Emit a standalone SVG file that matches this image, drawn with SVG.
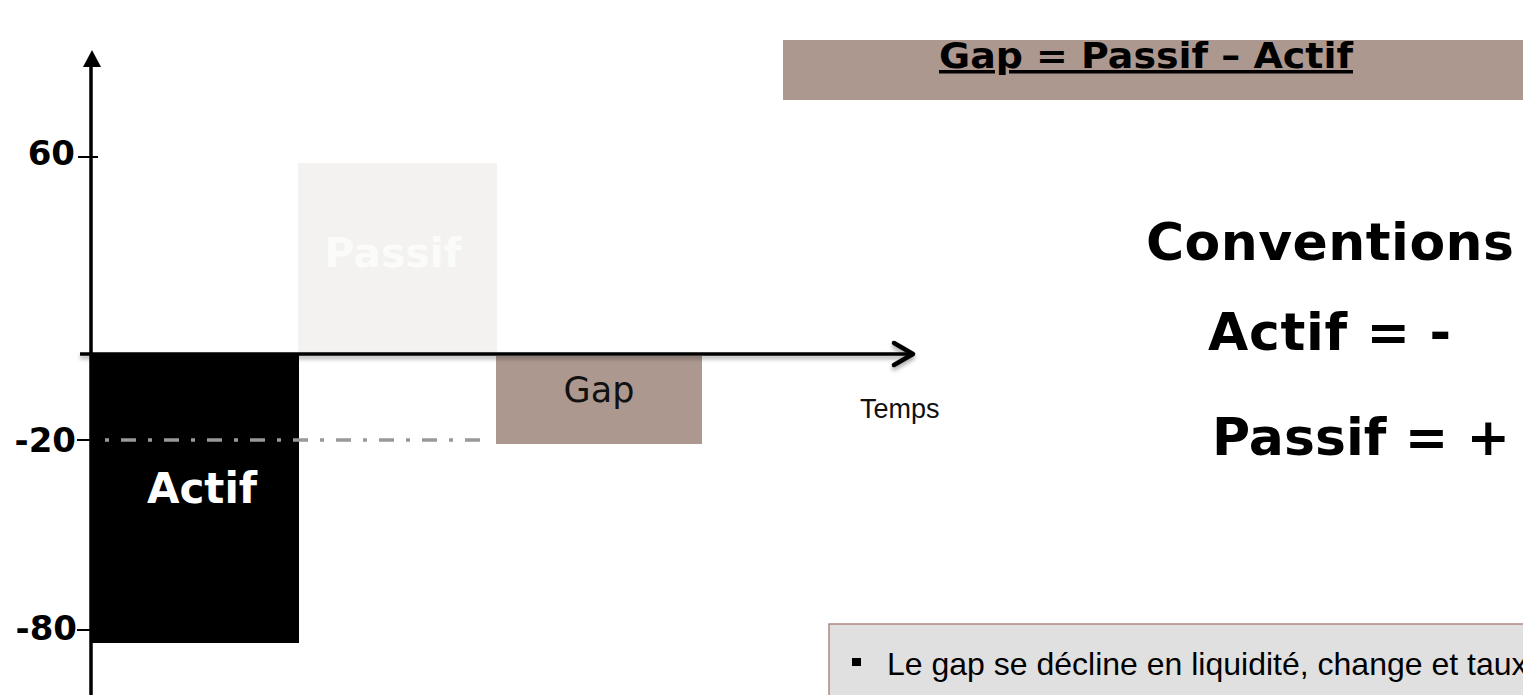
<svg xmlns="http://www.w3.org/2000/svg" width="1523" height="695" viewBox="0 0 1523 695">
<defs>
<style>
.bold{font-family:"DejaVu Sans","Liberation Sans",sans-serif;font-weight:bold}
.reg{font-family:"DejaVu Sans","Liberation Sans",sans-serif}
.arial{font-family:"Liberation Sans",Arial,sans-serif}
.axis{stroke:#000;stroke-width:3.5;fill:none}
.tick{stroke:#000;stroke-width:2;fill:none}
</style>
<filter id="sh" x="-5%" y="-200%" width="110%" height="500%">
<feDropShadow dx="0" dy="3" stdDeviation="2" flood-color="#000" flood-opacity="0.35"/>
</filter>
</defs>
<rect width="1523" height="695" fill="#fff"/>

<g id="passif">
<rect x="298" y="163" width="199" height="191" fill="#f3f2f0"/>
<text x="393" y="267" class="bold" font-size="41" fill="#fbfbfa" text-anchor="middle">Passif</text>
</g>

<g id="actif">
<rect x="91" y="354" width="208" height="289" fill="#000"/>
<text x="202" y="503" class="bold" font-size="42" fill="#fff" text-anchor="middle">Actif</text>
</g>

<g id="gap">
<rect x="496" y="356" width="206" height="88" fill="#ad9890"/>
<text x="599" y="402" class="reg" font-size="35" fill="#111" text-anchor="middle">Gap</text>
</g>

<g id="connectors">
<line x1="105" y1="440" x2="490" y2="440" stroke="#999" stroke-width="3.5" stroke-dasharray="4 12 15 12"/>
<line x1="91" y1="695" x2="91" y2="64" class="axis"/>
<polygon points="92,50 83,67 101,67" fill="#000"/>
<g filter="url(#sh)">
<line x1="80" y1="354" x2="912" y2="354" class="axis"/>
<polyline points="894,343 913,354 894,365" stroke="#000" stroke-width="4.5" fill="none" stroke-linecap="round" stroke-linejoin="round"/>
</g>
<line x1="78" y1="157" x2="98" y2="157" class="tick"/>
<line x1="77" y1="440" x2="91" y2="440" class="tick"/>
<line x1="77" y1="630" x2="91" y2="630" class="tick"/>
</g>

<g id="yaxis-labels">
<text x="75" y="165" class="bold" font-size="34" text-anchor="end">60</text>
<text x="76" y="452" class="bold" font-size="34" text-anchor="end">-20</text>
<text x="77" y="640" class="bold" font-size="34" text-anchor="end">-80</text>
</g>

<g id="temps">
<text x="860" y="418" class="arial" font-size="27" fill="#111">Temps</text>
</g>

<g id="header">
<rect x="783" y="40" width="740" height="60" fill="#ad9890"/>
<text x="939" y="68" class="bold" font-size="35" textLength="414" lengthAdjust="spacingAndGlyphs" text-decoration="underline">Gap = Passif – Actif</text>
</g>

<g id="conventions">
<text x="1146" y="260" class="bold" font-size="52" textLength="368">Conventions</text>
<text x="1208" y="350" class="bold" font-size="52" textLength="243">Actif = -</text>
<text x="1212" y="455" class="bold" font-size="52" textLength="298">Passif = +</text>
</g>

<g id="note">
<rect x="829" y="624" width="700" height="80" fill="#e0e0e0" stroke="#b08a80" stroke-width="1.5"/>
<rect x="852" y="658" width="9" height="8" fill="#000"/>
<text x="887" y="675" class="arial" font-size="32" fill="#000">Le gap se décline en liquidité, change et taux</text>
</g>
</svg>
